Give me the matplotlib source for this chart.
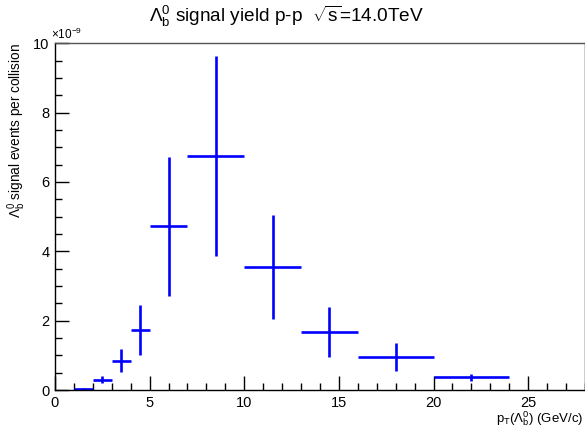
import matplotlib.pyplot as plt
from matplotlib.ticker import MultipleLocator
import numpy as np

plt.rcParams["font.family"] = "Liberation Sans"
plt.rcParams["mathtext.fontset"] = "custom"
plt.rcParams["mathtext.rm"] = "Liberation Sans"
plt.rcParams["mathtext.it"] = "Liberation Sans:italic"

# pT bins (GeV/c) and signal yield per collision (x1e-9)
bin_lo = [1, 2, 3, 4, 5, 7, 10, 13, 16, 20]
bin_hi = [2, 3, 4, 5, 7, 10, 13, 16, 20, 24]
yield_val = [0.03, 0.30, 0.85, 1.72, 4.72, 6.75, 3.55, 1.68, 0.95, 0.37]
yield_err = [0.02, 0.10, 0.33, 0.72, 2.00, 2.87, 1.50, 0.72, 0.40, 0.10]

lo = np.array(bin_lo, dtype=float)
hi = np.array(bin_hi, dtype=float)
centers = (lo + hi) / 2
half_w = (hi - lo) / 2

fig = plt.figure(figsize=(5.85, 4.32), dpi=100)
ax = fig.add_axes([0.094, 0.097, 0.906, 0.803])

ax.errorbar(centers, yield_val, xerr=half_w, yerr=yield_err,
            fmt='none', ecolor='#0000ff', elinewidth=1.9, capsize=0)

ax.set_xlim(0, 28)
ax.set_ylim(0, 10)

ax.xaxis.set_major_locator(MultipleLocator(5))
ax.xaxis.set_minor_locator(MultipleLocator(1))
ax.yaxis.set_major_locator(MultipleLocator(2))
ax.yaxis.set_minor_locator(MultipleLocator(0.5))
ax.tick_params(which='both', direction='in', top=False, right=False,
               labelsize=10.5, width=1)
ax.tick_params(which='major', length=10, pad=4)
ax.tick_params(which='minor', length=5)
for s in ax.spines.values():
    s.set_linewidth(1)
ax.spines['top'].set_color('#555555')

ax.text(-0.008, 1.004, r'$\times$10$^{-9}$', transform=ax.transAxes,
        ha='left', va='bottom', fontsize=8.5)

fig.text(0.49, 0.948, r'$\Lambda_{\mathrm{b}}^{0}$ signal yield p-p  $\sqrt{\mathrm{s}}$=14.0TeV',
         ha='center', va='baseline', fontsize=13.7)
ax.set_ylabel(r'$\Lambda_{\mathrm{b}}^{0}$ signal events per collision',
              fontsize=9.8, loc='top')
ax.yaxis.set_label_coords(-0.05, 1.0)
ax.set_xlabel(r'p$_{\mathrm{T}}$($\Lambda_{\mathrm{b}}^{0}$) (GeV/c)',
              fontsize=9.5, loc='right')
ax.xaxis.set_label_coords(0.997, -0.055)

fig.savefig('out.png', dpi=100)
